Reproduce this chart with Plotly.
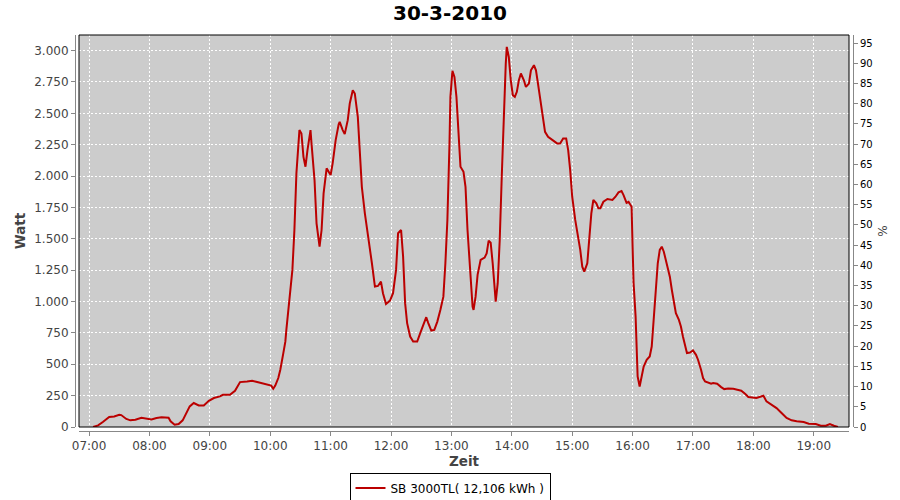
import plotly.graph_objects as go

title_text = "30-3-2010"
series_name = "SB 3000TL( 12,106 kWh )"
day = "2010-03-30"

times = [
    "07:04", "07:09", "07:14", "07:20", "07:25", "07:30", "07:32", "07:37", "07:41", "07:46",
    "07:52", "07:58", "08:02", "08:07", "08:12", "08:19", "08:21", "08:25", "08:29", "08:33",
    "08:36", "08:40", "08:44", "08:49", "08:54", "08:59", "09:04", "09:10", "09:13", "09:20",
    "09:25", "09:30", "09:37", "09:42", "09:47", "09:53", "09:59", "10:01", "10:03", "10:05",
    "10:08", "10:10", "10:13", "10:15", "10:16", "10:19", "10:22", "10:24", "10:26", "10:29",
    "10:31", "10:33", "10:35", "10:37", "10:40", "10:41", "10:44", "10:46", "10:49", "10:51",
    "10:53", "10:56", "10:57", "11:00", "11:02", "11:05", "11:08", "11:09", "11:12", "11:14",
    "11:17", "11:19", "11:22", "11:24", "11:27", "11:29", "11:31", "11:34", "11:38", "11:41",
    "11:44", "11:47", "11:50", "11:52", "11:55", "11:59", "12:02", "12:05", "12:07", "12:10",
    "12:12", "12:14", "12:16", "12:19", "12:22", "12:26", "12:29", "12:33", "12:35", "12:37",
    "12:40", "12:43", "12:46", "12:49", "12:52", "12:54", "12:56", "12:58", "12:59", "13:01",
    "13:03", "13:05", "13:07", "13:09", "13:12", "13:14", "13:16", "13:19", "13:21", "13:22",
    "13:24", "13:26", "13:29", "13:33", "13:35", "13:37", "13:39", "13:41", "13:43", "13:44",
    "13:46", "13:48", "13:50", "13:52", "13:54", "13:55", "13:57", "13:59", "14:01", "14:03",
    "14:05", "14:07", "14:09", "14:12", "14:14", "14:17", "14:19", "14:22", "14:24", "14:26",
    "14:29", "14:31", "14:33", "14:36", "14:41", "14:45", "14:48", "14:51", "14:54", "14:56",
    "14:58", "15:00", "15:03", "15:06", "15:08", "15:10", "15:12", "15:15", "15:17", "15:19",
    "15:21", "15:24", "15:26", "15:28", "15:31", "15:35", "15:40", "15:43", "15:46", "15:49",
    "15:51", "15:54", "15:56", "15:59", "16:00", "16:01", "16:03", "16:04", "16:05", "16:07",
    "16:09", "16:11", "16:14", "16:17", "16:19", "16:21", "16:23", "16:25", "16:27", "16:29",
    "16:31", "16:34", "16:37", "16:39", "16:41", "16:43", "16:46", "16:48", "16:50", "16:52",
    "16:54", "16:57", "17:00", "17:03", "17:05", "17:08", "17:10", "17:12", "17:14", "17:18",
    "17:20", "17:24", "17:28", "17:31", "17:35", "17:40", "17:44", "17:48", "17:52", "17:55",
    "18:03", "18:08", "18:10", "18:13", "18:18", "18:23", "18:28", "18:33", "18:38", "18:43",
    "18:50", "18:55", "19:02", "19:07", "19:12", "19:16", "19:20", "19:24",
]

watts = [
    0, 13, 42, 80, 84, 98, 95, 64, 53, 58,
    74, 68, 60, 72, 77, 74, 45, 18, 24, 53,
    98, 164, 191, 172, 172, 209, 231, 244, 257, 257,
    289, 358, 363, 368, 358, 345, 337, 330, 305, 330,
    390, 456, 589, 680, 774, 1039, 1252, 1570, 2021, 2366,
    2339, 2153, 2074, 2207, 2366, 2260, 1968, 1623, 1437, 1570,
    1862, 2061, 2047, 2008, 2101, 2286, 2413, 2432, 2366, 2334,
    2445, 2578, 2684, 2658, 2471, 2233, 1914, 1703, 1490, 1305,
    1119, 1124, 1159, 1066, 981, 1008, 1066, 1252, 1544, 1570,
    1358, 987, 828, 721, 681, 681, 748, 840, 875, 828,
    769, 774, 840, 933, 1039, 1305, 1650, 2233, 2631, 2838,
    2790, 2631, 2366, 2074, 2034, 1914, 1570, 1172, 960, 933,
    1039, 1212, 1331, 1350, 1384, 1485, 1469, 1305, 1092, 999,
    1146, 1490, 1994, 2498, 2896, 3029, 2949, 2763, 2644, 2631,
    2671, 2763, 2817, 2763, 2710, 2737, 2843, 2883, 2843, 2737,
    2578, 2445, 2352, 2312, 2286, 2260, 2260, 2300, 2300, 2207,
    2047, 1835, 1650, 1517, 1411, 1278, 1238, 1305, 1517, 1703,
    1809, 1782, 1743, 1743, 1795, 1817, 1809, 1835, 1870, 1880,
    1848, 1787, 1795, 1755, 1437, 1146, 880, 641, 403, 323,
    390, 482, 536, 562, 641, 880, 1119, 1305, 1411, 1437,
    1397, 1305, 1198, 1092, 987, 907, 854, 801, 721, 641,
    589, 594, 610, 575, 536, 456, 390, 363, 355, 345,
    350, 345, 318, 302, 307, 305, 297, 289, 263, 239,
    231, 244, 249, 204, 177, 151, 111, 72, 53, 45,
    40, 26, 24, 10, 10, 24, 10, 0,
]

x_range = ["06:50", "19:35"]
watt_range = [0, 3124]
pct_range = [0, 97]

xs = [f"{day} {t}" for t in times]

fig = go.Figure()
fig.add_trace(go.Scatter(
    x=xs, y=watts, mode="lines", name=series_name,
    line=dict(color="#bb0000", width=2),
))
fig.add_trace(go.Scatter(
    x=[xs[0]], y=[0], yaxis="y2", mode="markers",
    marker=dict(opacity=0), showlegend=False, hoverinfo="skip",
))

W, H = 900, 500
ml, mr, mt, mb = 75, 47, 35, 69
pw = W - ml - mr
ph = H - mt - mb
off = 4

tickfont = dict(family="DejaVu Sans", size=12, color="#444444")
titlefont = dict(family="DejaVu Sans", size=13.5, color="#444444", weight="bold")

fig.update_layout(
    width=W, height=H,
    margin=dict(l=ml, r=mr, t=mt, b=mb, pad=0, autoexpand=False),
    paper_bgcolor="white",
    plot_bgcolor="#cccccc",
    separators=",.",
    title=dict(text=title_text, x=0.5, xref="container", xanchor="center",
               y=1 - 13 / H, yanchor="middle",
               font=dict(family="DejaVu Sans", size=20, color="black", weight="bold")),
    xaxis=dict(
        type="date", automargin=False,
        domain=[off / pw, 1 - off / pw],
        anchor="free", position=0,
        range=[f"{day} {x_range[0]}", f"{day} {x_range[1]}"],
        dtick=3600000, tick0=f"{day} 07:00", tickformat="%H:%M",
        showgrid=True, gridcolor="white", griddash="2px,2px", gridwidth=1,
        showline=True, linecolor="#888888", linewidth=1,
        ticks="outside", ticklen=4, tickcolor="#888888",
        tickfont=tickfont,
        title=dict(text="Zeit", font=titlefont, standoff=3),
        zeroline=False,
    ),
    yaxis=dict(
        automargin=False,
        domain=[off / ph, 1],
        anchor="free", position=0,
        range=watt_range, dtick=250, tickformat=",d",
        showgrid=True, gridcolor="white", griddash="2px,2px", gridwidth=1,
        showline=True, linecolor="#888888", linewidth=1,
        ticks="outside", ticklen=4, tickcolor="#888888",
        tickfont=tickfont,
        title=dict(text="Watt", font=titlefont, standoff=4),
        zeroline=False,
    ),
    yaxis2=dict(
        automargin=False,
        overlaying="y", side="right",
        anchor="free", position=1,
        range=pct_range, dtick=5,
        showgrid=False,
        showline=True, linecolor="#888888", linewidth=1,
        ticks="outside", ticklen=4, tickcolor="#888888",
        tickfont=dict(family="DejaVu Sans", size=10, color="black"),
        title=dict(text="%", font=dict(family="DejaVu Sans", size=12, color="#444444"), standoff=6),
        zeroline=False,
    ),
    legend=dict(
        orientation="h",
        xref="container", x=0.5, xanchor="center",
        yref="container", y=1 - 488 / H, yanchor="middle",
        bordercolor="black", borderwidth=1, bgcolor="white",
        font=dict(family="DejaVu Sans", size=12, color="black"),
        itemwidth=30,
    ),
    showlegend=True,
)

fig.add_shape(type="rect", xref="x domain", yref="y domain",
              x0=0, x1=1, y0=0, y1=1, line=dict(color="black", width=1), layer="above")

fig.write_html(
    "out.html",
    config={"displayModeBar": False},
    post_script="document.body.style.margin='0';document.body.style.overflow='hidden';",
)
